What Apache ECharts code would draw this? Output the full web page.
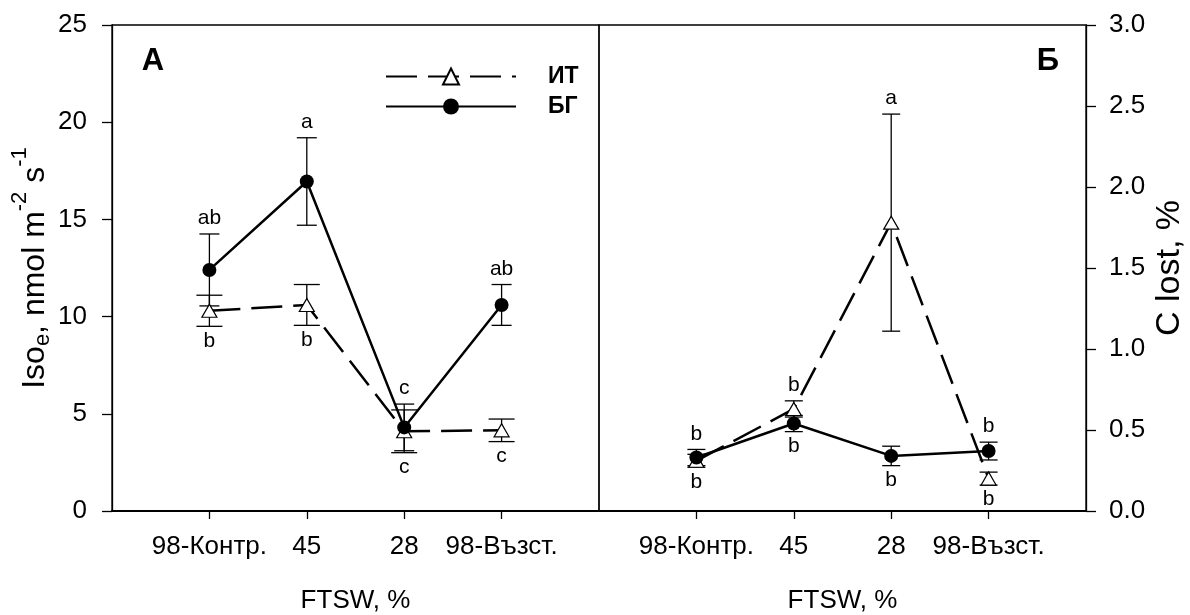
<!DOCTYPE html>
<html>
<head>
<meta charset="utf-8">
<script src="https://cdn.jsdelivr.net/npm/echarts@6/dist/echarts.min.js"></script>
<style>
  html, body { margin: 0; padding: 0; background: #fff; }
  #chart { width: 1190px; height: 615px; }
</style>
</head>
<body>
<div id="chart"></div>
<script>
// FTSW treatment levels (shared by both panels)
const categories = ['98-Контр.', '45', '28', '98-Възст.'];

// Panel А: isoprene emission, nmol m-2 s-1 (mean and SE)
const isoIT = [10.3, 10.6, 4.1, 4.15];
const isoITErr = [0.8, 1.05, 1.1, 0.58];
const isoBG = [12.4, 16.95, 4.3, 10.6];
const isoBGErr = [1.85, 2.25, 1.2, 1.05];
const isoITLetters = ['b', 'b', 'c', 'c'];
const isoITLetterPos = ['below', 'below', 'below', 'below'];
const isoBGLetters = ['ab', 'a', 'c', 'ab'];
const isoBGLetterPos = ['above', 'above', 'above', 'above'];

// Panel Б: carbon lost, % (mean and SE)
const cIT = [0.31, 0.63, 1.78, 0.20];
const cITErr = [0.04, 0.05, 0.67, 0.04];
const cBG = [0.33, 0.54, 0.34, 0.37];
const cBGErr = [0.05, 0.05, 0.06, 0.055];
const cITLetters = ['b', 'b', 'a', 'b'];
const cITLetterPos = ['below', 'above', 'above', 'below'];
const cBGLetters = ['b', 'b', 'b', 'b'];
const cBGLetterPos = ['above', 'below', 'below', 'above'];

// Axis tick values
const isoTicks = { min: 0, max: 25, step: 5 };
const cTicks = { min: 0, max: 3, step: 0.5 };

const FONT = "'Liberation Sans', Arial, Helvetica, sans-serif";
// empty slots on both ends give the half-step margin around the four levels
const axisCats = [''].concat(categories, ['']);

function points(vals) {
  return vals.map((v, i) => [categories[i], v]);
}

function errorBars(gridIdx, vals, errs, letters, pos, capW) {
  return {
    type: 'custom',
    xAxisIndex: gridIdx,
    yAxisIndex: gridIdx,
    z: 1,
    silent: true,
    data: vals.map((v, i) => [i + 1, v, errs[i]]),
    encode: { x: 0, y: 1 },
    renderItem(params, api) {
      const i = params.dataIndex;
      const cx = api.value(0), m = api.value(1), e = api.value(2);
      const top = api.coord([cx, m + e]);
      const bot = api.coord([cx, m - e]);
      const x = top[0];
      const ls = { stroke: '#000', lineWidth: 1.3 };
      const above = pos[i] === 'above';
      return {
        type: 'group',
        children: [
          { type: 'line', shape: { x1: x, y1: top[1], x2: x, y2: bot[1] }, style: ls },
          { type: 'line', shape: { x1: x - capW / 2, y1: top[1], x2: x + capW / 2, y2: top[1] }, style: ls },
          { type: 'line', shape: { x1: x - capW / 2, y1: bot[1], x2: x + capW / 2, y2: bot[1] }, style: ls },
          {
            type: 'text',
            style: {
              text: letters[i],
              x: x,
              y: above ? top[1] - 5 : bot[1] + 4,
              align: 'center',
              verticalAlign: above ? 'bottom' : 'top',
              font: '21px ' + FONT,
              fill: '#000'
            }
          }
        ]
      };
    }
  };
}

function lineSeries(gridIdx, name, vals) {
  const isIT = name === 'ИТ';
  return {
    type: 'line',
    name: name,
    xAxisIndex: gridIdx,
    yAxisIndex: gridIdx,
    data: points(vals),
    symbol: isIT ? 'triangle' : 'circle',
    symbolSize: isIT ? [15, 13] : 14,
    showAllSymbol: true,
    itemStyle: isIT ? { color: '#fff', borderColor: '#000', borderWidth: 1.2 } : { color: '#000' },
    lineStyle: { color: '#000', width: 2.5, type: isIT ? [31, 11] : 'solid' },
    z: isIT ? 3 : 4,
    emphasis: { disabled: true }
  };
}

function xAxisFor(gridIdx) {
  return {
    gridIndex: gridIdx,
    type: 'category',
    data: axisCats,
    boundaryGap: false,
    axisLine: { lineStyle: { color: '#000', width: 2 } },
    axisTick: {
      length: 8,
      interval: (idx) => idx > 0 && idx < axisCats.length - 1,
      lineStyle: { color: '#000', width: 1.3 }
    },
    axisLabel: { interval: 0, color: '#000', fontSize: 26, fontFamily: FONT, margin: 23 },
    splitLine: { show: false },
    name: 'FTSW, %',
    nameLocation: 'middle',
    nameGap: 77,
    nameTextStyle: { color: '#000', fontSize: 26, fontFamily: FONT }
  };
}

function legendFor(name, top) {
  return {
    data: [name], left: 385, top: top, padding: 0, orient: 'vertical', selectedMode: false,
    itemWidth: 130, itemHeight: 20,
    textStyle: { color: '#000', fontSize: 23, fontWeight: 'bold', fontFamily: FONT, padding: [0, 0, 0, 27] }
  };
}

const chart = echarts.init(document.getElementById('chart'), null, { renderer: 'canvas' });

chart.setOption({
  animation: false,
  backgroundColor: '#fff',
  grid: [
    { left: 112, top: 25, width: 487, height: 486, outerBoundsMode: 'none', show: true, borderColor: '#000', borderWidth: 1.3 },
    { left: 599, top: 25, width: 487, height: 486, outerBoundsMode: 'none', show: true, borderColor: '#000', borderWidth: 1.3 }
  ],
  xAxis: [xAxisFor(0), xAxisFor(1)],
  yAxis: [
    {
      gridIndex: 0,
      type: 'value',
      position: 'left',
      min: isoTicks.min,
      max: isoTicks.max,
      interval: isoTicks.step,
      axisLine: { show: true, lineStyle: { color: '#000', width: 1.3 } },
      axisTick: { show: true, length: 10, lineStyle: { color: '#000', width: 1.3 } },
      axisLabel: { color: '#000', fontSize: 26, fontFamily: FONT, margin: 25 },
      splitLine: { show: false },
      name: '{b|Iso}{sub|e}{b|, nmol m}{sup|-2}{b| s}{sup|-1}',
      nameLocation: 'middle',
      nameRotate: 90,
      nameGap: 43,
      nameTextStyle: {
        rich: {
          b: { fontSize: 32, fontFamily: FONT, color: '#000', lineHeight: 52, verticalAlign: 'middle' },
          sub: { fontSize: 22, fontFamily: FONT, color: '#000', lineHeight: 22, padding: [17, 0, 0, 0], verticalAlign: 'middle' },
          sup: { fontSize: 22, fontFamily: FONT, color: '#000', lineHeight: 22, verticalAlign: 'top' }
        }
      }
    },
    {
      gridIndex: 1,
      type: 'value',
      position: 'right',
      min: cTicks.min,
      max: cTicks.max,
      interval: cTicks.step,
      axisLine: { show: true, lineStyle: { color: '#000', width: 1.3 } },
      axisTick: { show: true, length: 10, lineStyle: { color: '#000', width: 1.3 } },
      axisLabel: { color: '#000', fontSize: 26, fontFamily: FONT, margin: 23, formatter: (v) => v.toFixed(1) },
      splitLine: { show: false },
      name: 'C lost, %',
      nameLocation: 'middle',
      nameRotate: 90,
      nameGap: 67,
      nameTextStyle: { color: '#000', fontSize: 34, fontFamily: FONT }
    }
  ],
  legend: [legendFor('ИТ', 65), legendFor('БГ', 95)],
  graphic: [
    { type: 'text', x: 153, y: 61, style: { text: 'А', align: 'center', verticalAlign: 'middle', font: 'bold 31px ' + FONT, fill: '#000' } },
    { type: 'text', x: 1048, y: 61, style: { text: 'Б', align: 'center', verticalAlign: 'middle', font: 'bold 31px ' + FONT, fill: '#000' } }
  ],
  series: [
    errorBars(0, isoIT, isoITErr, isoITLetters, isoITLetterPos, 26),
    errorBars(0, isoBG, isoBGErr, isoBGLetters, isoBGLetterPos, 20),
    lineSeries(0, 'ИТ', isoIT),
    lineSeries(0, 'БГ', isoBG),
    errorBars(1, cIT, cITErr, cITLetters, cITLetterPos, 18),
    errorBars(1, cBG, cBGErr, cBGLetters, cBGLetterPos, 18),
    lineSeries(1, 'ИТ', cIT),
    lineSeries(1, 'БГ', cBG)
  ]
});
</script>
</body>
</html>
